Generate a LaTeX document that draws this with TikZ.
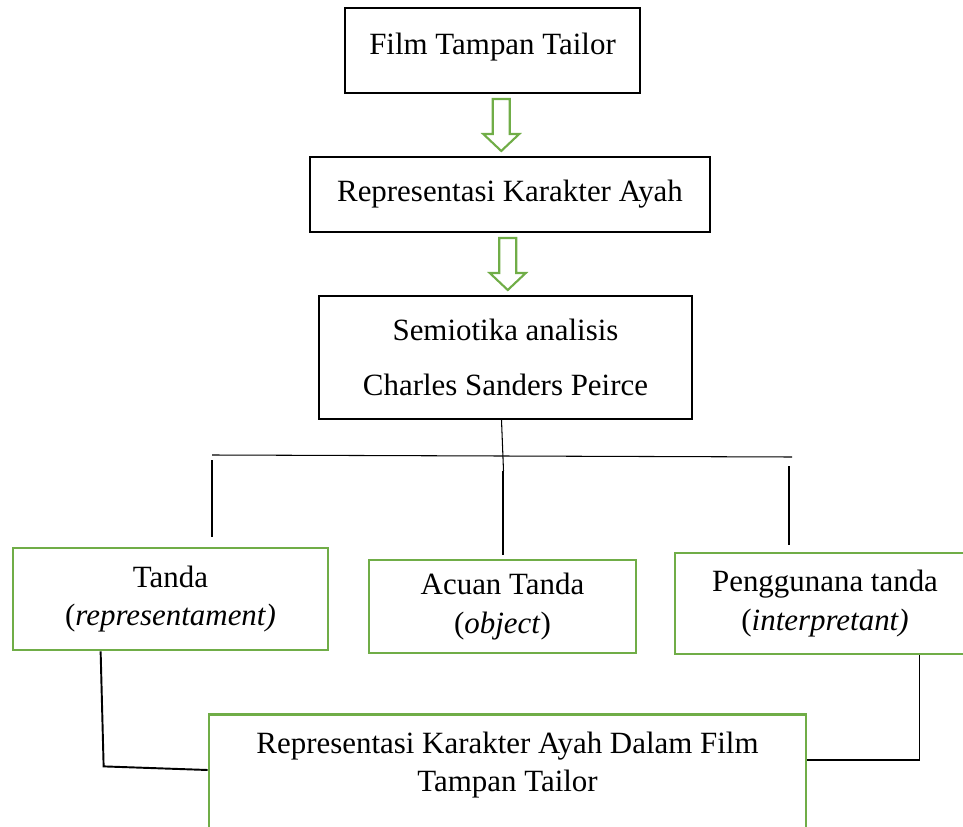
\documentclass[tikz,border=0pt]{standalone}
\usepackage{fontspec}
\setmainfont{Liberation Serif}
\usetikzlibrary{calc}
\definecolor{boxgreen}{RGB}{112,173,71}
\begin{document}
\begin{tikzpicture}[x=0.02cm,y=-0.02cm]
\tikzstyle{every node}+=[font=\fontsize{17.6}{22}\selectfont, align=center, inner sep=0pt]
\tikzstyle{blackbox}=[draw=black, line width=1.1pt]
\tikzstyle{greenbox}=[draw=boxgreen, line width=1.6pt]
\tikzstyle{hollowarrow}=[draw=boxgreen, line width=1.2pt, line join=miter]
\tikzstyle{thinline}=[draw=black, line width=0.6pt]
\tikzstyle{thickline}=[draw=black, line width=1.1pt]
\useasboundingbox (0,0) rectangle (963,827);
% upper boxes
\node [blackbox, minimum width=5.9cm, minimum height=1.7cm, text depth=0.25cm] (film) at (492.5,50.5) {Film Tampan Tailor};
\node [blackbox, minimum width=8cm, minimum height=1.5cm] (rep) at (510,194.5) {Representasi Karakter Ayah};
\node [blackbox, minimum width=7.46cm, minimum height=2.46cm] (semiotika) at (505.5,357.5) {Semiotika analisis\\[9pt] Charles Sanders Peirce};
% arrows between them
\coordinate (p1) at ($(film.south)!0.5!(rep.north)$);
\coordinate (p2) at ($(rep.south)!0.5!(semiotika.north)$);
\foreach \p in {p1,p2}
  \draw [hollowarrow] ($(\p)+(-8.5,-26)$) -- ++(17,0) -- ++(0,35) -- ++(9.5,0) -- ++(-18,17) -- ++(-18,-17) -- ++(9.5,0) -- cycle;
% three elements
\node [greenbox, minimum width=6.3cm, minimum height=2.04cm] (tanda) at (170.5,599) {Tanda\\(\textit{representament)}};
\node [greenbox, minimum width=5.34cm, minimum height=1.86cm] (acuan) at (502.5,606.5) {Acuan Tanda\\(\textit{object})};
\node [greenbox, minimum width=6cm, minimum height=2.02cm] (pengguna) at (825,603.5) {Penggunana tanda\\(\textit{interpretant)}};
% result box
\node [greenbox, minimum width=11.94cm, minimum height=2.9cm, anchor=north] (akhir) at (507.5,713) {};
\node (akhirtext) at ($(akhir.north)+(0,52)$) {Representasi Karakter Ayah Dalam Film\\Tampan Tailor};
% tree lines
\coordinate (hl) at (212,455);
\coordinate (hr) at (792,457);
\draw [thinline] (hl) -- (hr);
\draw [thinline] ($(semiotika.south)+(-4,0)$) -- ++(2,51);
\draw [thinline] ($(hl)+(0,5)$) -- ($(tanda.north -| hl)+(0,-10)$);
\draw [thinline] ($(acuan.north)+(0.5,-88)$) -- ($(acuan.north)+(0.5,-4)$);
\draw [thinline] ($(hr)+(-3,9)$) -- ($(pengguna.north -| hr)+(-3,-7)$);
% lower connectors
\draw [thickline] ($(tanda.south west)+(89,0)$) -- ($(tanda.south west)+(92,115)$) -- ($(akhir.north west)+(0,57)$);
\draw [thinline] ($(pengguna.south west)+(246,0)$) |- ($(akhir.north east)+(0,47)$);
\end{tikzpicture}
\end{document}
